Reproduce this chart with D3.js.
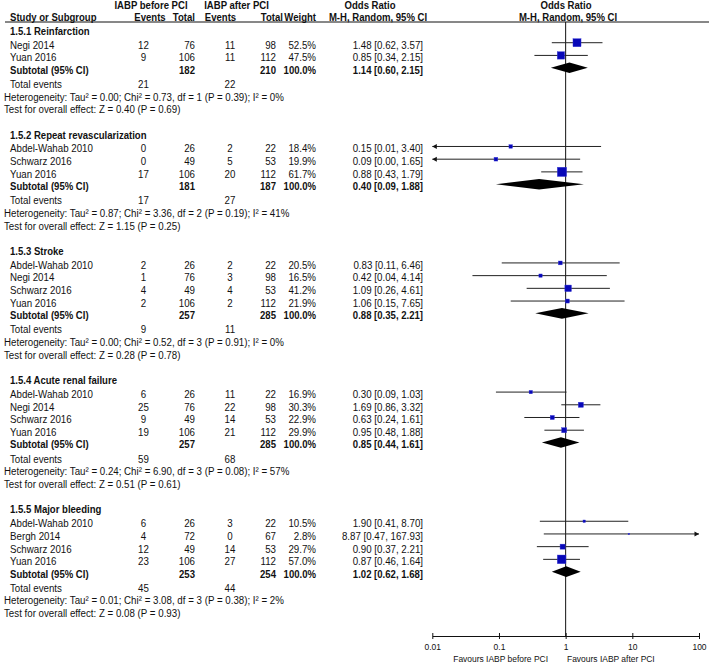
<!DOCTYPE html>
<html>
<head>
<meta charset="utf-8">
<script src="https://cdn.jsdelivr.net/npm/d3@7"></script>
<style>
  html, body { margin: 0; padding: 0; background: #fff; }
  svg { display: block; font-family: "Liberation Sans", Arial, sans-serif; }
  text { fill: #111; }
</style>
</head>
<body>
<svg id="chart" width="709" height="664"></svg>
<script>
// ---------- DATA ----------
const groupTitles = ["1.5.1 Reinfarction", "1.5.2 Repeat revascularization", "1.5.3 Stroke", "1.5.4 Acute renal failure", "1.5.5 Major bleeding"];

const studyGroup   = [0, 0, 1, 1, 1, 2, 2, 2, 2, 3, 3, 3, 3, 4, 4, 4, 4];
const studyNames   = ["Negi 2014", "Yuan 2016",
                      "Abdel-Wahab 2010", "Schwarz 2016", "Yuan 2016",
                      "Abdel-Wahab 2010", "Negi 2014", "Schwarz 2016", "Yuan 2016",
                      "Abdel-Wahab 2010", "Negi 2014", "Schwarz 2016", "Yuan 2016",
                      "Abdel-Wahab 2010", "Bergh 2014", "Schwarz 2016", "Yuan 2016"];
const eventsBefore = [12, 9, 0, 0, 17, 2, 1, 4, 2, 6, 25, 9, 19, 6, 4, 12, 23];
const totalBefore  = [76, 106, 26, 49, 106, 26, 76, 49, 106, 26, 76, 49, 106, 26, 72, 49, 106];
const eventsAfter  = [11, 11, 2, 5, 20, 2, 3, 4, 2, 11, 22, 14, 21, 3, 0, 14, 27];
const totalAfter   = [98, 112, 22, 53, 112, 22, 98, 53, 112, 22, 98, 53, 112, 22, 67, 53, 112];
const weights      = [52.5, 47.5, 18.4, 19.9, 61.7, 20.5, 16.5, 41.2, 21.9, 16.9, 30.3, 22.9, 29.9, 10.5, 2.8, 29.7, 57.0];
const oddsRatio    = [1.48, 0.85, 0.15, 0.09, 0.88, 0.83, 0.42, 1.09, 1.06, 0.30, 1.69, 0.63, 0.95, 1.90, 8.87, 0.90, 0.87];
const ciLower      = [0.62, 0.34, 0.01, 0.00, 0.43, 0.11, 0.04, 0.26, 0.15, 0.09, 0.86, 0.24, 0.48, 0.41, 0.47, 0.37, 0.46];
const ciUpper      = [3.57, 2.15, 3.40, 1.65, 1.79, 6.46, 4.14, 4.61, 7.65, 1.03, 3.32, 1.61, 1.88, 8.70, 167.93, 2.21, 1.64];

const subTotalBefore   = [182, 181, 257, 257, 253];
const subTotalAfter    = [210, 187, 285, 285, 254];
const subOddsRatio     = [1.14, 0.40, 0.88, 0.85, 1.02];
const subLower         = [0.60, 0.09, 0.35, 0.44, 0.62];
const subUpper         = [2.15, 1.88, 2.21, 1.61, 1.68];
const totalEventsBefore = [21, 17, 9, 59, 45];
const totalEventsAfter  = [22, 27, 11, 68, 44];
const tau2    = ["0.00", "0.87", "0.00", "0.24", "0.01"];
const chi2    = ["0.73", "3.36", "0.52", "6.90", "3.08"];
const dfHet   = [1, 2, 3, 3, 3];
const pHet    = ["0.39", "0.19", "0.91", "0.08", "0.38"];
const i2      = [0, 41, 0, 57, 2];
const zValue  = ["0.40", "1.15", "0.28", "0.51", "0.08"];
const pOverall = ["0.69", "0.25", "0.78", "0.61", "0.93"];

const tickValues = [0.01, 0.1, 1, 10, 100];
const tickLabels = ["0.01", "0.1", "1", "10", "100"];
const favoursLeft = "Favours IABP before PCI";
const favoursRight = "Favours IABP after PCI";

// ---------- LAYOUT ----------
const svg = d3.select("#chart");
const FS = 11, SX = 0.885, SXB = 0.87;
const AXFS = 9.4, AXSX = 0.9;
const x = d3.scaleLog().domain([0.01, 100]).range([432.3, 699]);
const rowY = d3.scaleLinear().domain([0, 1]).range([31, 43.7]);
const sq = d3.scaleLinear().domain([0, 100]).range([1.13, 14.33]);
const axisY = 636, headerLineY = 22;
const markShift = -2;

const col = { name: 10, stat: 4, evB: 143.5, totB: 195, evA: 230, totA: 276, wt: 316, or: 423 };

// build rows
const rows = [];
let idx = 0;
groupTitles.forEach((t, g) => {
  rows.push({ type: "title", g, i: idx });
  idx += 1.08;
  studyGroup.forEach((sg, s) => {
    if (sg === g) { rows.push({ type: "study", g, s, i: idx }); idx += 1; }
  });
  idx -= 0.03;
  rows.push({ type: "subtotal", g, i: idx });
  idx += 1.12; rows.push({ type: "events", g, i: idx });
  idx += 1;    rows.push({ type: "het", g, i: idx });
  idx += 1;    rows.push({ type: "test", g, i: idx });
  idx += 2;
});

function txt(xp, yp, s, anchor, bold, size, sx) {
  return svg.append("text")
    .attr("transform", `translate(${xp},${yp}) scale(${sx || (bold ? SXB : SX)},1)`)
    .attr("dy", "0.35em")
    .attr("text-anchor", anchor || "start")
    .style("font-size", (size || FS) + "px")
    .style("font-weight", bold ? "bold" : "normal")
    .text(s);
}
const fmt2 = d3.format(".2f");
const ciText = (o, l, h) => `${fmt2(o)} [${fmt2(l)}, ${fmt2(h)}]`;

// ---------- HEADER ----------
txt(151, 5.5, "IABP before PCI", "middle", true);
txt(236.5, 5.5, "IABP after PCI", "middle", true);
txt(370, 5.5, "Odds Ratio", "middle", true);
txt(566, 5.5, "Odds Ratio", "middle", true);
txt(col.name, 17.3, "Study or Subgroup", "start", true);
txt(150, 17.3, "Events", "middle", true);
txt(195, 17.3, "Total", "end", true);
txt(220.5, 17.3, "Events", "middle", true);
txt(283, 17.3, "Total", "end", true);
txt(316, 17.3, "Weight", "end", true);
txt(378, 17.3, "M-H, Random, 95% CI", "middle", true);
txt(568, 17.3, "M-H, Random, 95% CI", "middle", true);
svg.append("line").attr("x1", 5).attr("x2", 709).attr("y1", headerLineY).attr("y2", headerLineY)
  .attr("stroke", "#111").attr("stroke-width", 1);

// null line
svg.append("line").attr("x1", x(1)).attr("x2", x(1)).attr("y1", headerLineY).attr("y2", axisY)
  .attr("stroke", "#111").attr("stroke-width", 1);

// ---------- ROWS ----------
const plot = svg.append("g");
rows.forEach(r => {
  const y = rowY(r.i);
  const g = r.g;
  if (r.type === "title") {
    txt(col.name, y, groupTitles[g], "start", true);
  } else if (r.type === "study") {
    const s = r.s;
    txt(col.name, y, studyNames[s]);
    txt(col.evB, y, eventsBefore[s], "middle");
    txt(col.totB, y, totalBefore[s], "end");
    txt(col.evA, y, eventsAfter[s], "middle");
    txt(col.totA, y, totalAfter[s], "end");
    txt(col.wt, y, weights[s].toFixed(1) + "%", "end");
    txt(col.or, y, ciText(oddsRatio[s], ciLower[s], ciUpper[s]), "end");
    // CI line
    const ym = y + markShift;
    const lo = Math.max(ciLower[s], 0.01), hi = Math.min(ciUpper[s], 100);
    const loClip = ciLower[s] <= 0.01, hiClip = ciUpper[s] >= 100;
    plot.append("line").attr("x1", x(lo)).attr("x2", x(hi)).attr("y1", ym).attr("y2", ym)
      .attr("stroke", "#222").attr("stroke-width", 1);
    if (loClip) {
      const xa = x(0.01);
      plot.append("path").attr("d", `M${xa},${ym} L${xa + 4.5},${ym - 2.5} L${xa + 4.5},${ym + 2.5} Z`).attr("fill", "#111");
    }
    if (hiClip) {
      const xa = x(100);
      plot.append("path").attr("d", `M${xa},${ym} L${xa - 4.5},${ym - 2.5} L${xa - 4.5},${ym + 2.5} Z`).attr("fill", "#111");
    }
    const side = sq(weights[s]);
    plot.append("rect").attr("x", x(oddsRatio[s]) - side / 2).attr("y", ym - side / 2)
      .attr("width", side).attr("height", side)
      .attr("fill", "#0808b8").attr("stroke", "#3c3cd8").attr("stroke-width", 0.4);
  } else if (r.type === "subtotal") {
    txt(col.name, y, "Subtotal (95% CI)", "start", true);
    txt(col.totB, y, subTotalBefore[g], "end", true);
    txt(col.totA, y, subTotalAfter[g], "end", true);
    txt(col.wt, y, "100.0%", "end", true);
    txt(col.or, y, ciText(subOddsRatio[g], subLower[g], subUpper[g]), "end", true);
    const ym = y + markShift, h = 5.3;
    plot.append("path")
      .attr("d", `M${x(subLower[g])},${ym} L${x(subOddsRatio[g])},${ym - h} L${x(subUpper[g])},${ym} L${x(subOddsRatio[g])},${ym + h} Z`)
      .attr("fill", "#000");
  } else if (r.type === "events") {
    txt(col.name, y, "Total events");
    txt(col.evB, y, totalEventsBefore[g], "middle");
    txt(col.evA, y, totalEventsAfter[g], "middle");
  } else if (r.type === "het") {
    txt(col.stat, y, `Heterogeneity: Tau² = ${tau2[g]}; Chi² = ${chi2[g]}, df = ${dfHet[g]} (P = ${pHet[g]}); I² = ${i2[g]}%`);
  } else if (r.type === "test") {
    txt(col.stat, y, `Test for overall effect: Z = ${zValue[g]} (P = ${pOverall[g]})`);
  }
});

// ---------- AXIS ----------
const axis = d3.axisBottom(x).tickValues(tickValues)
  .tickFormat((d, i) => tickLabels[i]).tickSize(3).tickSizeOuter(0).tickPadding(4);
const ax = svg.append("g").attr("transform", `translate(0,${axisY})`).call(axis);
ax.select(".domain").attr("stroke", "#111");
ax.selectAll(".tick line").attr("y1", -3).attr("y2", 3).attr("stroke", "#111");
ax.selectAll(".tick text")
  .attr("transform", `scale(${AXSX},1)`)
  .style("font-size", AXFS + "px")
  .style("font-family", '"Liberation Sans", Arial, sans-serif').attr("fill", "#111");

txt(548, 659, favoursLeft, "end", false, AXFS, AXSX);
txt(567, 659, favoursRight, "start", false, AXFS, AXSX);
</script>
</body>
</html>
